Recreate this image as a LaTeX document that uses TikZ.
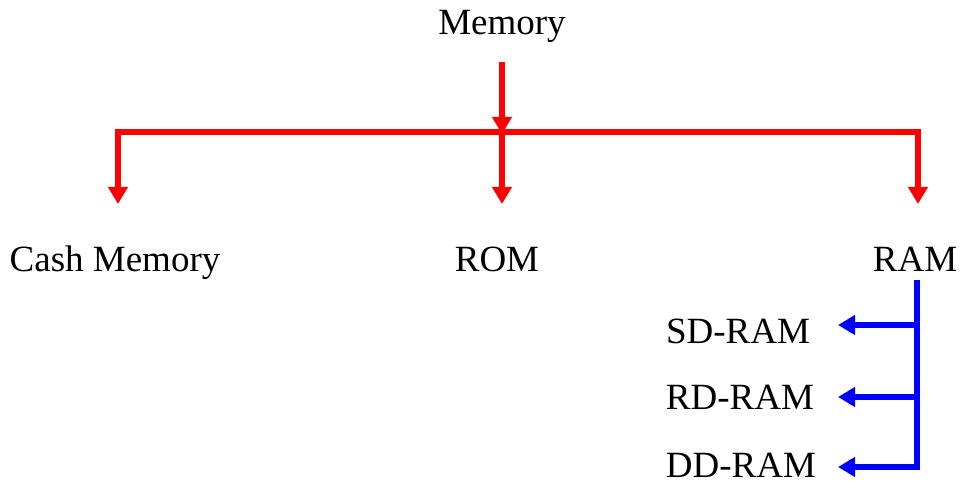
\documentclass[tikz,border=0pt]{standalone}
\usepackage{fontspec}
\setmainfont{Liberation Serif}
\usetikzlibrary{arrows.meta}
\begin{document}
\begin{tikzpicture}[x=1pt,y=-1pt,
  lbl/.style={anchor=base,inner sep=0pt,font=\fontsize{37}{40}\selectfont},
  redarrow/.style={draw={rgb,255:red,255;green,0;blue,0},line width=5.5pt,line join=miter,line cap=butt,
     -{Triangle[length=17pt 0 0,width=19pt 0 0]}},
  bluearrow/.style={draw={rgb,255:red,0;green,0;blue,255},line width=5.5pt,line join=miter,line cap=butt,
     -{Triangle[length=17pt 0 0,width=19pt 0 0]}},
  blueline/.style={draw={rgb,255:red,0;green,0;blue,255},line width=5.5pt,line cap=butt}]
\useasboundingbox (0,0) rectangle (964,486);
% text nodes
\node[lbl] (mem) at (502,35) {Memory};
\node[lbl] (cash) at (115,272) {Cash Memory};
\node[lbl] (rom) at (497,272) {ROM};
\node[lbl] (ram) at (915,272) {RAM};
\node[lbl] (sd) at (738,344) {SD-RAM};
\node[lbl] (rd) at (740,409) {RD-RAM};
\node[lbl] (dd) at (741,477) {DD-RAM};
% coordinates
\coordinate (memstart) at (502,62);
\coordinate (junc) at (502,132);
\coordinate (cashtip) at (118,204);
\coordinate (romtip) at (502,204);
\coordinate (ramtip) at (918,204);
\coordinate (ramstart) at (917,280);
\coordinate (b1) at (917,325);
\coordinate (b2) at (917,397);
\coordinate (b3) at (917,467);
\coordinate (sdtip) at (838,325);
\coordinate (rdtip) at (838,397);
\coordinate (ddtip) at (838,467);
% red connectors
\draw[redarrow] (memstart) -- ([yshift=-2pt]junc);
\draw[redarrow] (junc) -- (romtip);
\draw[redarrow] (junc) -| (cashtip);
\draw[redarrow] (junc) -| (ramtip);
% blue connectors
\draw[blueline] (ramstart) -- (b3);
\draw[bluearrow] ([xshift=2.75pt]b3) -- (ddtip);
\draw[bluearrow] (b1) -- (sdtip);
\draw[bluearrow] (b2) -- (rdtip);
\end{tikzpicture}
\end{document}
